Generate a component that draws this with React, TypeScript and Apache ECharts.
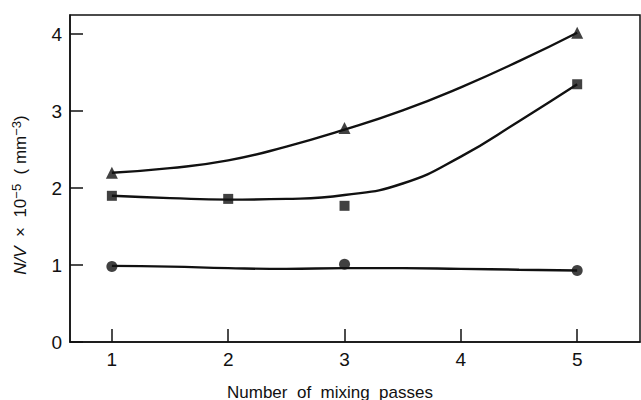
import React, { useEffect, useRef } from "react";
import * as echarts from "echarts";

// Measured points (number of mixing passes vs N/V × 10^-5 mm^-3)
const passes = [1, 3, 5];
const passesSquare = [1, 2, 3, 5];
const triangleValues = [2.2, 2.78, 4.02];
const squareValues = [1.9, 1.86, 1.77, 3.35];
const circleValues = [0.98, 1.01, 0.93];

// Hand-drawn trend curves, sampled every half pass
const curvePasses = [1, 1.5, 2, 2.5, 3, 3.5, 4, 4.5, 5];
const triangleCurve = [2.2, 2.26, 2.36, 2.54, 2.76, 3.01, 3.31, 3.65, 4.02];
const squareCurve = [1.9, 1.87, 1.85, 1.86, 1.91, 2.06, 2.41, 2.87, 3.35];
const circleCurve = [0.99, 0.98, 0.96, 0.95, 0.96, 0.96, 0.95, 0.94, 0.93];

const xTicks = [1, 2, 3, 4, 5];
const yTicks = [0, 1, 2, 3, 4];

const FONT = "Liberation Sans";
const INK = "#111";

const pairs = (xs: number[], ys: number[]) => xs.map((x, i) => [x, ys[i]]);

export default function App() {
  const ref = useRef<HTMLDivElement>(null);

  useEffect(() => {
    if (!ref.current) return;
    const chart = echarts.init(ref.current, undefined, { renderer: "svg" });

    const curve = (data: number[][]) => ({
      type: "line",
      data,
      smooth: 0.5,
      showSymbol: false,
      symbol: "none",
      lineStyle: { color: INK, width: 2.4 },
      z: 2,
    });
    const marks = (data: number[][], symbol: string, size: number) => ({
      type: "scatter",
      data,
      symbol,
      symbolSize: size,
      itemStyle: { color: INK },
      z: 3,
    });

    chart.setOption({
      animation: false,
      backgroundColor: "#fff",
      grid: {
        left: 70,
        top: 15,
        right: 1,
        bottom: 58,
        show: true,
        borderColor: INK,
        borderWidth: 1.5,
      },
      xAxis: {
        type: "value",
        min: 0.64,
        max: 5.54,
        splitLine: { show: false },
        axisLine: { show: true, onZero: false, lineStyle: { color: INK, width: 1.5 } },
        axisTick: {
          show: true,
          inside: true,
          length: 13,
          customValues: xTicks,
          lineStyle: { color: INK, width: 1.5 },
        },
        axisLabel: {
          customValues: xTicks,
          color: INK,
          fontFamily: FONT,
          fontSize: 19,
          margin: 8,
        },
      },
      yAxis: {
        type: "value",
        min: 0,
        max: 4.25,
        splitLine: { show: false },
        axisLine: { show: true, lineStyle: { color: INK, width: 1.5 } },
        axisTick: {
          show: true,
          inside: true,
          length: 13,
          customValues: yTicks,
          lineStyle: { color: INK, width: 1.5 },
        },
        axisLabel: {
          customValues: yTicks,
          color: INK,
          fontFamily: FONT,
          fontSize: 19,
          margin: 8,
        },
      },
      graphic: [
        {
          type: "text",
          x: 330,
          y: 392,
          style: {
            text: "Number  of  mixing  passes",
            fill: INK,
            font: `17px "${FONT}"`,
            align: "center",
            verticalAlign: "middle",
          },
        },
        {
          type: "text",
          x: 20,
          y: 195,
          rotation: Math.PI / 2,
          style: {
            text: "{i|N/V}  ×  10{s|−5}  ( mm{s|−3})",
            fill: INK,
            font: `17px "${FONT}"`,
            align: "center",
            verticalAlign: "middle",
            rich: {
              i: { fontStyle: "italic", fontSize: 17, fontFamily: FONT, fill: INK },
              s: {
                fontSize: 13,
                fontFamily: FONT,
                fill: INK,
                verticalAlign: "top",
                padding: [0, 0, 8, 0],
              },
            },
          },
        },
      ],
      series: [
        curve(pairs(curvePasses, triangleCurve)),
        curve(pairs(curvePasses, squareCurve)),
        curve(pairs(curvePasses, circleCurve)),
        marks(pairs(passes, triangleValues), "triangle", 12),
        marks(pairs(passesSquare, squareValues), "rect", 10),
        marks(pairs(passes, circleValues), "circle", 11),
      ],
    });

    return () => chart.dispose();
  }, []);

  return <div ref={ref} style={{ width: 641, height: 400, position: "absolute", left: 0, top: 0 }} />;
}
